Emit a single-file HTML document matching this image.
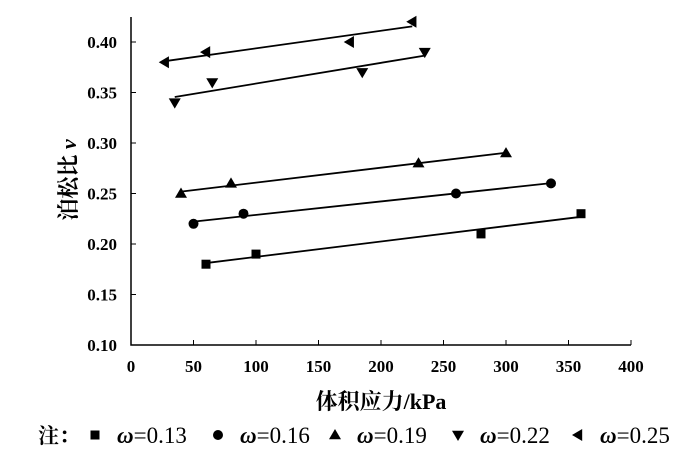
<!DOCTYPE html>
<html><head><meta charset="utf-8"><style>
body{margin:0;background:#fff;}
svg text{font-family:"Liberation Serif","Noto Serif CJK SC",serif;fill:#000;}
</style></head><body>
<svg id="c" width="700" height="462"></svg>
<script>
const xTicks=[0,50,100,150,200,250,300,350,400];
const yTicks=[0.10,0.15,0.20,0.25,0.30,0.35,0.40];
const seriesNames=["ω=0.13","ω=0.16","ω=0.19","ω=0.22","ω=0.25"];
const sqX=[60,100,280,360], sqY=[0.18,0.19,0.21,0.23];
const ciX=[50,90,260,336], ciY=[0.22,0.23,0.25,0.26];
const upX=[40,80,230,300], upY=[0.25,0.26,0.28,0.29];
const dnX=[35,65,185,235], dnY=[0.34,0.36,0.37,0.39];
const lfX=[27,60,175,225], lfY=[0.38,0.39,0.40,0.42];

const svg=document.getElementById('c');
const NS='http://www.w3.org/2000/svg';
const X=v=>131+v*1.25;
const Y=v=>345-(v-0.10)/0.05*50.5;
function mk(t,a,p){const e=document.createElementNS(NS,t);for(const k in a)e.setAttribute(k,a[k]);(p||svg).appendChild(e);return e;}

const ax=mk('path',{d:`M131,17 V345 H631`,stroke:'#000','stroke-width':1.5,fill:'none'});


xTicks.forEach(v=>{
  mk('line',{x1:X(v),x2:X(v),y1:345,y2:340,stroke:'#000'});
  const t=mk('text',{x:X(v),y:372,'text-anchor':'middle','font-size':17,'font-weight':'bold'});
  t.textContent=v;
  
  
});
yTicks.forEach(v=>{
  mk('line',{x1:131,x2:136,y1:Y(v),y2:Y(v),stroke:'#000'});
  const t=mk('text',{x:117,y:Y(v)+6,'text-anchor':'end','font-size':17,'font-weight':'bold'});
  t.textContent=v.toFixed(2);
  
  
});
const xt=mk('text',{x:381,y:409,'text-anchor':'middle','font-size':22,'font-weight':'bold'});
xt.textContent='体积应力/kPa';


const yt=mk('text',{x:0,y:0,'text-anchor':'middle','font-size':22,'font-weight':'bold',transform:'translate(76,180) rotate(-90)'});
yt.innerHTML='泊松比 <tspan font-style="italic">ν</tspan>';



function marker(kind,cx,cy,p){
  const s=6;
  if(kind==0) return mk('rect',{x:cx-4.5,y:cy-4.5,width:9,height:9,fill:'#000'},p);
  if(kind==1) return mk('circle',{cx,cy,r:5,fill:'#000'},p);
  if(kind==2) return mk('polygon',{points:`${cx},${cy-s} ${cx-s},${cy+s*0.7} ${cx+s},${cy+s*0.7}`,fill:'#000'},p);
  if(kind==3) return mk('polygon',{points:`${cx},${cy+s} ${cx-s},${cy-s*0.7} ${cx+s},${cy-s*0.7}`,fill:'#000'},p);
  return mk('polygon',{points:`${cx-s},${cy} ${cx+s*0.7},${cy-s} ${cx+s*0.7},${cy+s}`,fill:'#000'},p);
}
const all=[[sqX,sqY],[ciX,ciY],[upX,upY],[dnX,dnY],[lfX,lfY]];
all.forEach(([xs,ys],k)=>{
  const g=mk('g',{});
  
  
  const n=xs.length,mx=xs.reduce((a,b)=>a+b)/n,my=ys.reduce((a,b)=>a+b)/n;
  let sxy=0,sxx=0;xs.forEach((x,i)=>{sxy+=(x-mx)*(ys[i]-my);sxx+=(x-mx)*(x-mx);});
  const b=sxy/sxx,a=my-b*mx,x0=Math.min(...xs),x1=Math.max(...xs);
  const ln=mk('line',{x1:X(x0),y1:Y(a+b*x0),x2:X(x1),y2:Y(a+b*x1),stroke:'#000','stroke-width':1.8},g);
  
  
  xs.forEach((x,i)=>{
    const m=marker(k,X(x),Y(ys[i]),g);
    
    
  });
});
const lg=mk('g',{});


const nt=mk('text',{x:38,y:443,'font-size':21,'font-weight':'bold'},lg);
nt.textContent='注：';
const lx=[95,218,335,458,578];
seriesNames.forEach((s,k)=>{
  const m=marker(k,lx[k],435,lg);
  
  
  const t=mk('text',{x:lx[k]+22,y:443,'font-size':23},lg);
  t.innerHTML='<tspan font-style="italic" font-weight="bold">ω</tspan>'+s.slice(1);
  
  
});
</script>
</body></html>
